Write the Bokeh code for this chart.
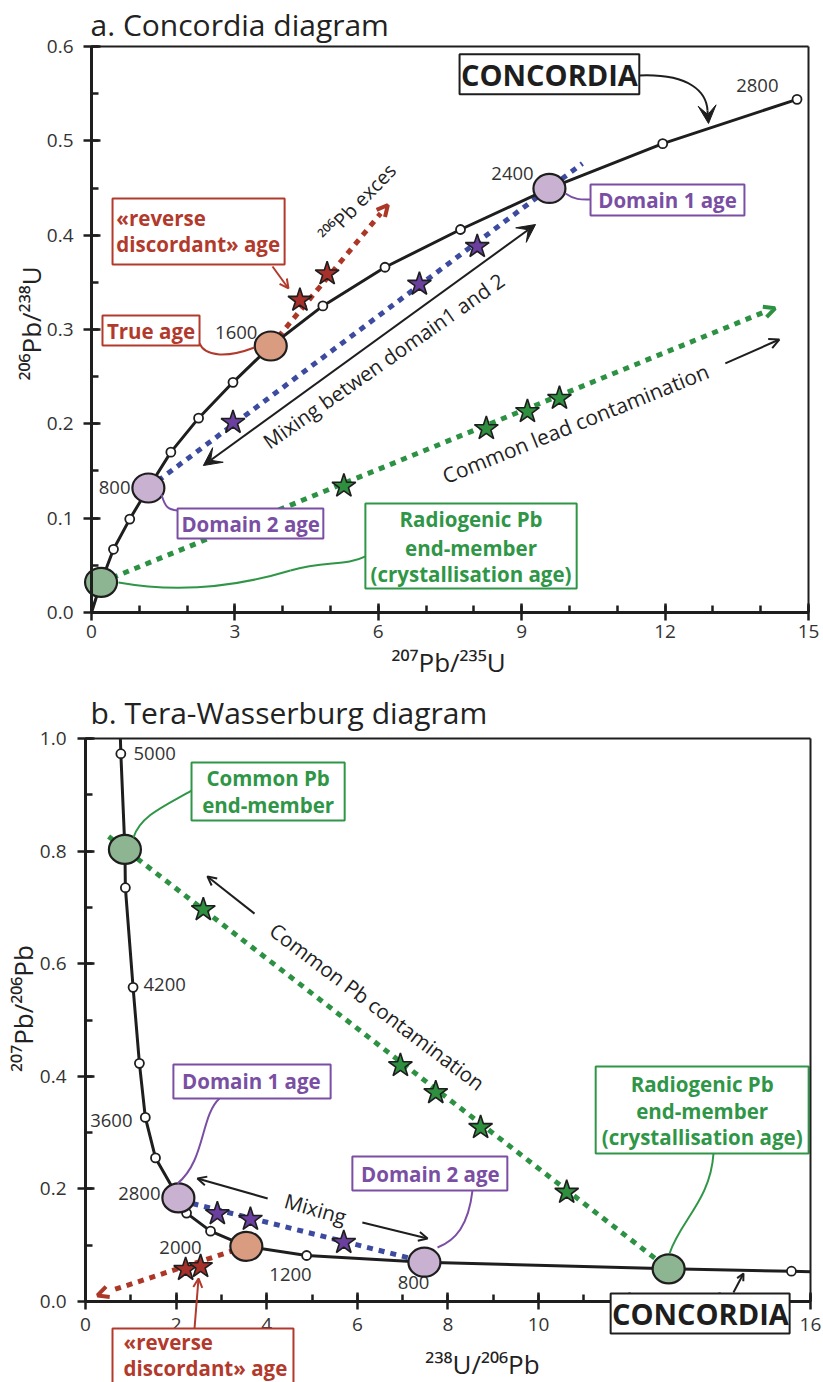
from bokeh.plotting import figure
from bokeh.layouts import column
from bokeh.models import (Range1d, FixedTicker, PrintfTickFormatter, Label, Arrow,
                          OpenHead, VeeHead, BoxAnnotation, LinearAxis)
from bokeh.core.properties import value
from bokeh.embed import file_html
from bokeh.resources import INLINE

FONT = "Open Sans"
INK = "#1e1e1e"
RED = "#b23a2c"
PURPLE = "#7a4fa3"
GREEN = "#2f9647"
BLUE_DOT = "#3c4b9f"
GREEN_DOT = "#2c9142"
RED_DOT = "#ad3727"
FILL_GREEN = "#8db592"
FILL_LILAC = "#c9b2d1"
FILL_SALMON = "#d99c80"
STAR_RED = "#a8302a"
STAR_PURPLE = "#6a3f9f"
STAR_GREEN = "#2e8f3e"
LBL = 20.5      # bold box labels
ROT = 20.5      # rotated annotations

# ---------------- data: panel a (Concordia) ----------------
conc_a_age = [0, 200, 400, 600, 800, 1000, 1200, 1400, 1600, 1800, 2000, 2200, 2400, 2600, 2800]
conc_a_x = [0.0, 0.20, 0.46, 0.80, 1.19, 1.66, 2.24, 2.96, 3.75, 4.84, 6.14, 7.72, 9.58, 11.95, 14.76]
conc_a_y = [0.0, 0.032, 0.067, 0.099, 0.132, 0.170, 0.206, 0.244, 0.2825, 0.325, 0.366, 0.406, 0.4495, 0.497, 0.544]
a_big_age = [200, 800, 1600, 2400]
a_big_fill = [FILL_GREEN, FILL_LILAC, FILL_SALMON, FILL_LILAC]

red_star_a_x = [4.36, 4.93]
red_star_a_y = [0.331, 0.359]
purple_star_a_x = [2.96, 6.86, 8.07]
purple_star_a_y = [0.2015, 0.348, 0.388]
green_star_a_x = [5.28, 8.26, 9.12, 9.79]
green_star_a_y = [0.134, 0.195, 0.213, 0.227]

excess_a_x = [3.75, 6.05]
excess_a_y = [0.2825, 0.423]
mixing_a_x = [1.19, 10.27]
mixing_a_y = [0.132, 0.476]
common_a_x = [0.20, 14.10]
common_a_y = [0.032, 0.319]

a_xticks = [0, 3, 6, 9, 12, 15]
a_yticks = [0.0, 0.1, 0.2, 0.3, 0.4, 0.5, 0.6]

# ---------------- data: panel b (Tera-Wasserburg) ----------------
conc_b_x = [0.77, 0.78, 0.87, 0.88, 1.05, 1.19, 1.32, 1.545, 2.05, 2.23, 2.76, 3.55, 4.88, 7.48, 12.87, 15.58, 16.0]
conc_b_y = [1.0, 0.973, 0.803, 0.735, 0.558, 0.423, 0.327, 0.255, 0.184, 0.157, 0.125, 0.098, 0.0817, 0.0698, 0.058, 0.0538, 0.053]
b_marker_idx = [1, 3, 4, 5, 6, 7, 9, 10, 12, 15]
b_big_idx = [2, 8, 11, 13, 14]
b_big_fill = [FILL_GREEN, FILL_LILAC, FILL_SALMON, FILL_LILAC, FILL_GREEN]

green_star_b_x = [2.60, 6.95, 7.73, 8.72, 10.62]
green_star_b_y = [0.696, 0.419, 0.371, 0.309, 0.194]
purple_star_b_x = [2.91, 3.64, 5.70]
purple_star_b_y = [0.156, 0.146, 0.105]
red_star_b_x = [2.21, 2.54]
red_star_b_y = [0.057, 0.062]

common_b_x = [0.51, 12.87]
common_b_y = [0.826, 0.058]
mixing_b_x = [2.36, 7.48]
mixing_b_y = [0.174, 0.0706]
excess_b_x = [3.55, 0.55]
excess_b_y = [0.098, 0.019]

b_age_text = ["5000", "4200", "3600", "2800", "2000", "1200", "800"]
b_xticks = [0, 2, 4, 6, 8, 10, 12, 14, 16]
b_yticks = [0.0, 0.2, 0.4, 0.6, 0.8, 1.0]


# ---------------- helpers ----------------
def style_axis(ax):
    ax.axis_line_width = 3
    ax.axis_line_color = INK
    ax.major_tick_line_width = 2.5
    ax.minor_tick_line_width = 2.5
    ax.major_tick_line_color = INK
    ax.minor_tick_line_color = INK
    ax.major_tick_in = 9
    ax.major_tick_out = 8
    ax.minor_tick_in = 7
    ax.minor_tick_out = 0
    ax.major_label_text_font = FONT
    ax.major_label_text_font_size = "19px"
    ax.major_label_text_color = "#333333"


def edge_axis(p, side, bounds, fixed):
    ax = LinearAxis(bounds=bounds, ticker=FixedTicker(ticks=[]),
                    axis_line_width=2, axis_line_color=INK,
                    major_tick_in=0, major_tick_out=0,
                    minor_tick_in=0, minor_tick_out=0,
                    major_label_text_font_size="0px")
    ax.fixed_location = fixed
    p.add_layout(ax, side)


def setup_panel(p, xt, xminor, yt, yminor, xmax, ymax, xstand, ystand):
    """Axes pinned at the data limits of the plotting box (0..xmax, 0..ymax)."""
    p.grid.visible = False
    p.outline_line_color = None
    p.xaxis.ticker = FixedTicker(ticks=xt, minor_ticks=xminor)
    p.yaxis.ticker = FixedTicker(ticks=yt, minor_ticks=yminor)
    p.xaxis.formatter = PrintfTickFormatter(format="%d")
    p.yaxis.formatter = PrintfTickFormatter(format="%.1f")
    p.xaxis.bounds = (0, xmax)
    p.yaxis.bounds = (0, ymax)
    p.xaxis.fixed_location = 0
    p.yaxis.fixed_location = 0
    style_axis(p.xaxis[0])
    style_axis(p.yaxis[0])
    p.xaxis.major_label_standoff = xstand
    p.yaxis.major_label_standoff = ystand
    edge_axis(p, "right", (0, ymax), xmax)
    edge_axis(p, "above", (0, xmax), ymax)


def axis_title(p, x, y, txt, angle=0):
    p.add_layout(Label(x=x, y=y, text=txt, text_font=FONT, text_font_size="26px",
                       text_color="#222222", text_align="center",
                       text_baseline="middle", angle=angle, angle_units="deg"))


def add_text(p, x, y, txt, size, color, bold=False, align="center",
             baseline="middle", angle=0):
    p.text(x=[x], y=[y], text=[txt], text_font=value(FONT),
           text_font_size=f"{size}px",
           text_font_style="bold" if bold else "normal",
           text_color=color, text_align=align, text_baseline=baseline,
           angle=angle, angle_units="deg")


def add_box(p, l, r, t, b, color):
    p.quad(left=[l], right=[r], top=[t], bottom=[b], fill_color="white",
           line_color=color, line_width=2)


def add_curve(p, pts, color, width=2):
    (x0, y0), (cx0, cy0), (cx1, cy1), (x1, y1) = pts
    p.bezier(x0=[x0], y0=[y0], x1=[x1], y1=[y1], cx0=[cx0], cy0=[cy0],
             cx1=[cx1], cy1=[cy1], line_color=color, line_width=width)


def add_arrow(p, x0, y0, x1, y1, color, kind="open", size=10, width=2,
              both=False, body=True):
    def head():
        if kind == "vee":
            return VeeHead(size=size, fill_color=color, line_color=color,
                           line_width=1)
        return OpenHead(size=size, line_color=color, line_width=width)
    arr = Arrow(end=head(), start=head() if both else None,
                x_start=x0, y_start=y0, x_end=x1, y_end=y1,
                line_color=color, line_width=width,
                line_alpha=1.0 if body else 0.0)
    p.add_layout(arr)


def dotted(p, xs, ys, color):
    p.line(xs, ys, line_color=color, line_width=5, line_dash="6 6",
           line_cap="butt")


def stars(p, xs, ys, fill):
    p.scatter(xs, ys, marker="star", size=25, fill_color=fill,
              line_color=INK, line_width=1.6)


def big_circles(p, xs, ys, fills):
    p.ellipse(x=xs, y=ys, width=32, height=29, width_units="screen",
              height_units="screen", fill_color=fills, line_color=INK,
              line_width=2.2)


# ======================= Panel a =======================
# the frame covers the whole canvas; the plotting box (0..15, 0..0.6) is
# outlined by axes pinned at its limits
SXA, SYA = 47.8, 943.3
p1 = figure(width=823, height=690, x_range=Range1d(-91 / SXA, 732 / SXA),
            y_range=Range1d(-78 / SYA, 0.6 + 46 / SYA),
            output_backend="svg", toolbar_location=None,
            min_border_left=0, min_border_right=0, min_border_top=0,
            min_border_bottom=0, background_fill_color="white")
setup_panel(p1, a_xticks, list(range(0, 16)), a_yticks,
            [i * 0.05 for i in range(13)], 15, 0.6, 5, 10)
axis_title(p1, 7.469, -0.0530, "\u00b2\u2070\u2077Pb/\u00b2\u00b3\u2075U")
axis_title(p1, -1.276, 0.3064, "\u00b2\u2070\u2076Pb/\u00b2\u00b3\u2078U", angle=90)

p1.add_layout(Label(x=-0.02, y=0.6238, text="a. Concordia diagram", text_font=FONT,
                    text_font_size="30px", text_color="#222222",
                    text_baseline="alphabetic"))

dotted(p1, mixing_a_x, mixing_a_y, BLUE_DOT)
dotted(p1, common_a_x, common_a_y, GREEN_DOT)
dotted(p1, excess_a_x, excess_a_y, RED_DOT)
add_arrow(p1, 6.0, 0.4199, 6.2, 0.432, RED_DOT, size=11, width=4, body=False)
add_arrow(p1, 14.0, 0.317, 14.3, 0.3225, GREEN_DOT, size=11, width=4, body=False)

p1.line(conc_a_x, conc_a_y, line_color=INK, line_width=3)
a_mark_x = [x for a, x in zip(conc_a_age, conc_a_x) if a > 0 and a not in a_big_age]
a_mark_y = [y for a, y in zip(conc_a_age, conc_a_y) if a > 0 and a not in a_big_age]
p1.scatter(a_mark_x, a_mark_y, marker="circle", size=9, fill_color="white",
           line_color=INK, line_width=1.8)

# age labels
add_text(p1, 0.816, 0.1325, "800", 18.5, "#333333", align="right")
add_text(p1, 3.47, 0.297, "1600", 18.5, "#333333", align="right")
add_text(p1, 9.25, 0.4654, "2400", 18.5, "#333333", align="right")
add_text(p1, 13.93, 0.5587, "2800", 18.5, "#333333")

a_big_x = [conc_a_x[conc_a_age.index(a)] for a in a_big_age]
a_big_y = [conc_a_y[conc_a_age.index(a)] for a in a_big_age]
big_circles(p1, a_big_x, a_big_y, a_big_fill)

stars(p1, red_star_a_x, red_star_a_y, STAR_RED)
stars(p1, purple_star_a_x, purple_star_a_y, STAR_PURPLE)
stars(p1, green_star_a_x, green_star_a_y, STAR_GREEN)

# connectors
add_curve(p1, [(2.259, 0.2852), (2.385, 0.2703), (2.866, 0.2703), (3.41, 0.2809)], RED)
add_curve(p1, [(9.916, 0.4442), (10.125, 0.4368), (10.27, 0.4378), (10.44, 0.4378)], PURPLE)
add_curve(p1, [(1.464, 0.1251), (1.548, 0.1103), (1.611, 0.1092), (1.80, 0.1081)], PURPLE)
add_curve(p1, [(0.565, 0.0318), (1.862, 0.0201), (3.117, 0.0286), (4.163, 0.0445)], GREEN)
add_curve(p1, [(4.163, 0.0445), (4.895, 0.0551), (5.314, 0.0488), (5.732, 0.0594)], GREEN)
add_curve(p1, [(11.464, 0.5693), (12.53, 0.5714), (12.866, 0.5512), (12.887, 0.5322)], INK)
add_arrow(p1, 12.887, 0.5322, 12.908, 0.5184, INK, kind="vee", size=18, width=2)

# boxes
add_box(p1, 7.70, 11.46, 0.5917, 0.5493, INK)
add_text(p1, 9.58, 0.570, "CONCORDIA", 29, INK, bold=True)
add_box(p1, 10.44, 13.66, 0.4537, 0.4209, PURPLE)
add_text(p1, 12.05, 0.437, "Domain 1 age", LBL, PURPLE, bold=True)
add_box(p1, 1.80, 4.85, 0.1103, 0.0785, PURPLE)
add_text(p1, 3.33, 0.094, "Domain 2 age", LBL, PURPLE, bold=True)
add_box(p1, 5.73, 10.15, 0.1156, 0.0254, GREEN)
add_text(p1, 7.94, 0.0986, "Radiogenic Pb", LBL, GREEN, bold=True)
add_text(p1, 7.94, 0.0689, "end-member", LBL, GREEN, bold=True)
add_text(p1, 7.94, 0.0413, "(crystallisation age)", LBL, GREEN, bold=True)
add_box(p1, 0.23, 2.26, 0.3149, 0.2830, RED)
add_text(p1, 1.245, 0.2985, "True age", LBL, RED, bold=True)
add_box(p1, 0.44, 4.04, 0.4389, 0.3689, RED)
add_text(p1, 0.52, 0.4183, "\u00abreverse", LBL, RED, bold=True, align="left", baseline="alphabetic")
add_text(p1, 0.52, 0.3905, "discordant\u00bb age", LBL, RED, bold=True, align="left", baseline="alphabetic")
add_arrow(p1, 3.787, 0.3668, 4.121, 0.3435, RED, size=9, width=2)

# rotated annotations
add_text(p1, 5.565, 0.4346, "\u00b2\u2070\u2076Pb exces", 19.5, "#222222", angle=46)
add_text(p1, 6.109, 0.2671, "Mixing betwen domain1 and 2", ROT, "#222222", angle=35)
add_arrow(p1, 2.34, 0.1558, 9.29, 0.4113, INK, kind="vee", size=18, width=2, both=True)
add_text(p1, 10.126, 0.2004, "Common lead contamination", 21, "#222222", angle=22)
add_arrow(p1, 13.26, 0.264, 14.39, 0.2894, INK, size=10, width=2)

# ======================= Panel b =======================
SX, SY = 45.31, 563.0
p2 = figure(width=823, height=692, x_range=Range1d(-85 / SX, 738 / SX),
            y_range=Range1d(-81 / SY, 1 + 48 / SY),
            output_backend="svg", toolbar_location=None,
            min_border_left=0, min_border_right=0, min_border_top=0,
            min_border_bottom=0, background_fill_color="white")
setup_panel(p2, b_xticks, list(range(0, 17)), b_yticks,
            [i * 0.1 for i in range(11)], 16, 1, 8, 11)
axis_title(p2, 8.762, -0.1104, "\u00b2\u00b3\u2078U/\u00b2\u2070\u2076Pb")
axis_title(p2, -1.39, 0.5204, "\u00b2\u2070\u2077Pb/\u00b2\u2070\u2076Pb", angle=90)

p2.add_layout(Label(x=0.11, y=1.0462, text="b. Tera-Wasserburg diagram", text_font=FONT,
                    text_font_size="30px", text_color="#222222",
                    text_baseline="alphabetic"))

dotted(p2, common_b_x, common_b_y, GREEN_DOT)
dotted(p2, mixing_b_x, mixing_b_y, BLUE_DOT)
dotted(p2, excess_b_x, excess_b_y, RED_DOT)
add_arrow(p2, 0.6, 0.0203, 0.265, 0.0107, RED_DOT, size=11, width=4, body=False)

p2.line(conc_b_x, conc_b_y, line_color=INK, line_width=3)
p2.scatter([conc_b_x[i] for i in b_marker_idx], [conc_b_y[i] for i in b_marker_idx],
           marker="circle", size=9, fill_color="white", line_color=INK, line_width=1.8)

# age labels
add_text(p2, 1.059, 0.9734, b_age_text[0], 18.5, "#333333", align="left")
add_text(p2, 1.28, 0.563, b_age_text[1], 18.5, "#333333", align="left")
add_text(p2, 1.037, 0.3215, b_age_text[2], 18.5, "#333333", align="right")
add_text(p2, 1.655, 0.1918, b_age_text[3], 18.5, "#333333", align="right")
add_text(p2, 2.097, 0.0959, b_age_text[4], 18.5, "#333333")
add_text(p2, 4.524, 0.048, b_age_text[5], 18.5, "#333333")
add_text(p2, 7.239, 0.0337, b_age_text[6], 18.5, "#333333")

big_circles(p2, [conc_b_x[i] for i in b_big_idx], [conc_b_y[i] for i in b_big_idx], b_big_fill)

stars(p2, green_star_b_x, green_star_b_y, STAR_GREEN)
stars(p2, purple_star_b_x, purple_star_b_y, STAR_PURPLE)
stars(p2, red_star_b_x, red_star_b_y, STAR_RED)

# connectors
add_curve(p2, [(1.059, 0.8242), (1.214, 0.8632), (1.766, 0.881), (2.339, 0.9076)], GREEN)
add_curve(p2, [(2.957, 0.3606), (2.538, 0.3304), (2.648, 0.2504), (2.03, 0.2096)], PURPLE)
add_curve(p2, [(8.541, 0.1972), (8.453, 0.135), (8.166, 0.1083), (7.769, 0.0959)], PURPLE)
add_curve(p2, [(13.86, 0.2629), (13.79, 0.1794), (13.13, 0.1439), (12.89, 0.0853)], GREEN)

# boxes in frame
add_box(p2, 2.34, 5.72, 0.9574, 0.8544, GREEN)
add_text(p2, 4.03, 0.929, "Common Pb", LBL, GREEN, bold=True)
add_text(p2, 4.03, 0.881, "end-member", LBL, GREEN, bold=True)
add_box(p2, 1.94, 5.41, 0.421, 0.3606, PURPLE)
add_text(p2, 3.66, 0.391, "Domain 1 age", LBL, PURPLE, bold=True)
add_box(p2, 5.89, 9.31, 0.2575, 0.197, PURPLE)
add_text(p2, 7.61, 0.227, "Domain 2 age", LBL, PURPLE, bold=True)
add_box(p2, 11.26, 15.96, 0.4174, 0.2629, GREEN)
add_text(p2, 13.61, 0.3872, "Radiogenic Pb", LBL, GREEN, bold=True)
add_text(p2, 13.61, 0.3375, "end-member", LBL, GREEN, bold=True)
add_text(p2, 13.61, 0.2913, "(crystallisation age)", LBL, GREEN, bold=True)

# rotated annotations
add_text(p2, 5.076, 0.1652, "Mixing", ROT, "#222222", angle=-16)
add_arrow(p2, 4.02, 0.183, 2.47, 0.2185, INK, size=9, width=2)
add_arrow(p2, 6.11, 0.1403, 7.55, 0.1119, INK, size=9, width=2)
add_text(p2, 6.444, 0.524, "Common Pb contamination", ROT, "#222222", angle=-37)
add_arrow(p2, 3.73, 0.689, 2.69, 0.755, INK, size=9, width=2)

# boxes that straddle / sit below the x axis (annotations drawn above the axis)
p2.add_layout(BoxAnnotation(left=0.596, right=4.59, top=-0.048, bottom=-0.20,
                            fill_color="white", fill_alpha=1.0, line_color=RED,
                            line_width=2, line_alpha=1.0))
p2.add_layout(Label(x=0.84, y=-0.0711, text="\u00abreverse", text_font=FONT,
                    text_font_size=f"{LBL}px", text_font_style="bold", text_color=RED,
                    text_baseline="alphabetic"))
p2.add_layout(Label(x=0.84, y=-0.1190, text="discordant\u00bb age", text_font=FONT,
                    text_font_size=f"{LBL}px", text_font_style="bold", text_color=RED,
                    text_baseline="alphabetic"))
add_arrow(p2, 2.406, -0.048, 2.494, 0.0409, RED, size=9, width=2)

p2.add_layout(BoxAnnotation(left=11.59, right=15.54, top=0.0142, bottom=-0.0568,
                            fill_color="white", fill_alpha=1.0, line_color=INK,
                            line_width=2, line_alpha=1.0))
p2.add_layout(Label(x=13.57, y=-0.0213, text="CONCORDIA", text_font=FONT,
                    text_font_size="29px", text_font_style="bold", text_color=INK,
                    text_align="center", text_baseline="middle"))
add_arrow(p2, 14.30, 0.016, 14.522, 0.0497, INK, size=7, width=2)

layout = column(p1, p2, spacing=0)
open("out.html", "w").write(file_html(layout, INLINE))
